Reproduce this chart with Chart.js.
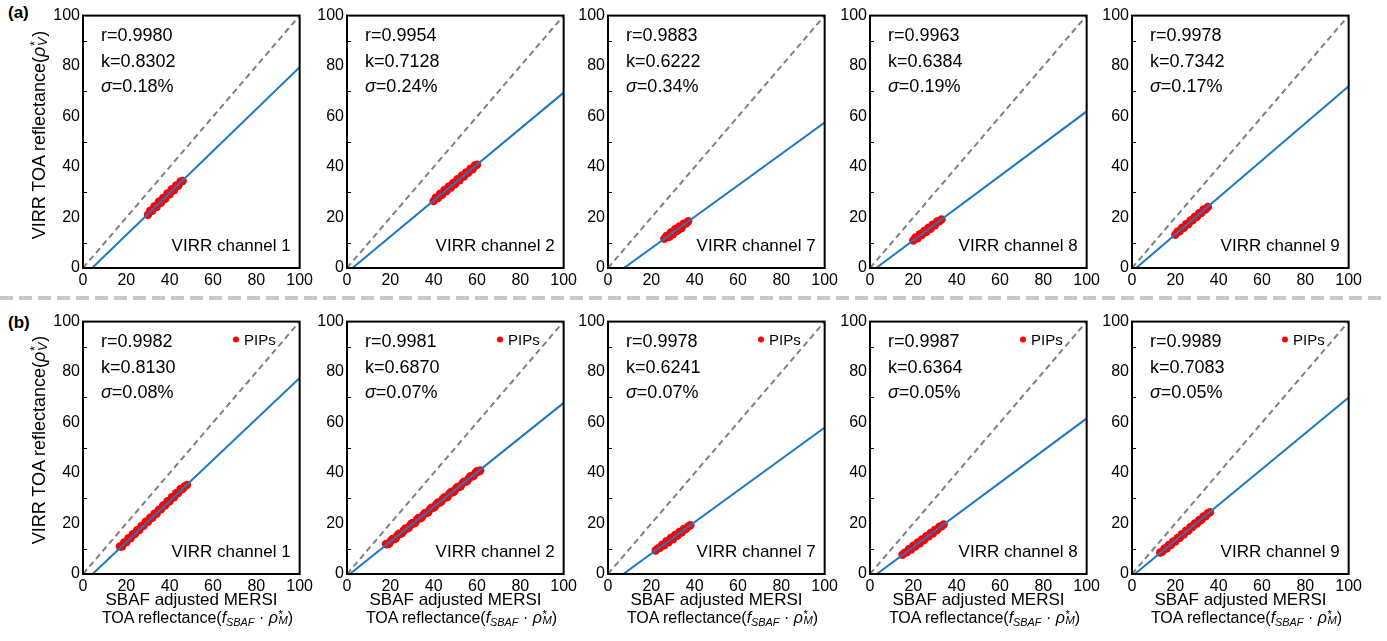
<!DOCTYPE html>
<html>
<head>
<meta charset="utf-8">
<title>VIRR vs SBAF adjusted MERSI</title>
<script src="https://cdn.jsdelivr.net/npm/chart.js@4/dist/chart.umd.min.js"></script>
<style>
    body { margin: 0; background: #fff; }
    #figure {
        position: relative;
        width: 1387px;
        height: 641px;
        overflow: hidden;
        font-family: 'Liberation Sans', Arial, sans-serif;
        color: #000;
    }
    canvas.panel { position: absolute; }
    .txt { position: absolute; white-space: nowrap; line-height: 1; }
    .tag { font-weight: bold; font-size: 17px; }
    .ytitle { font-size: 18px; transform: translate(-50%, -50%) rotate(-90deg); }
    .xtitle { font-size: 17px; transform: translateX(-50%); }
    .xtitle.second { font-size: 16px; }
    .txt sub { font-size: 0.68em; vertical-align: -0.25em; line-height: 0; }
    .stk { display: inline-block; position: relative; height: 0.7em; vertical-align: baseline; }
    .stk span { position: absolute; left: 0.05em; font-size: 0.7em; line-height: 1; }
    .stk .up { top: -0.25em; }
    .stk .dn { top: 0.36em; font-style: italic; }
    #divider {
        position: absolute;
        left: 0; top: 296px;
        width: 1387px; height: 4px;
        background: repeating-linear-gradient(to right, #c8c8c8 0 13px, transparent 13px 19px);
    }
</style>
</head>
<body>
<div id="figure"><div id="divider"></div></div>
<script>

/* ---------------- DATA ---------------- */
const channels = [1, 2, 7, 8, 9]
const axisTicks = [0, 20, 40, 60, 80, 100]
const minorTicks = [10, 30, 50, 70, 90]

// (a) all matched samples
const rValuesA = ['0.9980', '0.9954', '0.9883', '0.9963', '0.9978']
const kValuesA = [0.8302, 0.7128, 0.6222, 0.6384, 0.7342]
const sigmaA = ['0.18', '0.24', '0.34', '0.19', '0.17']
const interceptA = [-3.5, -1.8, -4.6, -1.8, -1.4]

// (b) PIPs only
const rValuesB = ['0.9982', '0.9981', '0.9978', '0.9987', '0.9989']
const kValuesB = [0.8130, 0.6870, 0.6241, 0.6364, 0.7083]
const sigmaB = ['0.08', '0.07', '0.07', '0.05', '0.05']
const interceptB = [-3.6, -0.9, -4.4, -2.0, -0.9]

// sample points, MERSI (x) vs VIRR (y) reflectance in %
const ptsA1X = [30, 31, 32, 33, 34, 35, 36, 37, 38, 39, 40, 41, 42, 43, 44, 45, 46]
const ptsA1Y = [21.1, 22.7, 22.7, 24.5, 24.2, 26.3, 25.8, 27.8, 27.4, 29.5, 29.2, 31.2, 30.8, 32.7, 32.6, 34.3, 34.5]

const ptsA2X = [40, 41, 42, 43, 44, 45, 46, 47, 48, 49, 50, 51, 52, 53, 54, 55, 56, 57, 58, 59, 60]
const ptsA2Y = [26.5, 27.9, 27.7, 29.4, 29.0, 30.9, 30.5, 32.3, 31.9, 33.7, 33.3, 35.2, 34.8, 36.6, 36.2, 37.9, 37.7, 39.3, 39.1, 40.6, 40.9]

const ptsA3X = [26, 27, 28, 29, 30, 31, 32, 33, 34, 35, 36, 37, 28.5, 31.5, 33.5]
const ptsA3Y = [11.6, 12.7, 12.3, 14.1, 13.4, 15.4, 14.7, 16.5, 15.8, 17.6, 17.6, 18.5, 12.6, 15.6, 15.7]

const ptsA4X = [20, 21, 22, 23, 24, 25, 26, 27, 28, 29, 30, 31, 32, 33]
const ptsA4Y = [10.9, 12.1, 11.8, 13.4, 13.1, 14.7, 14.3, 16.0, 15.5, 17.2, 16.9, 18.4, 18.5, 19.2]

const ptsA5X = [20, 21, 22, 23, 24, 25, 26, 27, 28, 29, 30, 31, 32, 33, 34, 35]
const ptsA5Y = [13.2, 14.4, 14.5, 15.9, 15.9, 17.4, 17.3, 18.8, 18.9, 20.3, 20.3, 21.7, 21.8, 23.2, 23.3, 24.2]

const ptsB1X = [17, 18, 19, 20, 21, 22, 23, 24, 25, 26, 27, 28, 29, 30, 31, 32,
    33, 34, 35, 36, 37, 38, 39, 40, 41, 42, 43, 44, 45, 46, 47, 48]
const ptsB1Y = [10.9, 10.9, 12.5, 12.6, 14.2, 14.2, 15.8, 15.8, 17.4, 17.4, 19.0, 19.1, 20.7, 20.7, 22.3, 22.3,
    23.9, 23.9, 25.5, 25.6, 27.2, 27.2, 28.8, 28.8, 30.4, 30.4, 32.0, 32.1, 33.7, 33.7, 34.8, 35.3]

const ptsB2X = [18, 19.5, 21, 22.5, 24, 25.5, 27, 28.5, 30, 31.5, 33, 34.5, 36, 37.5, 39,
    40.5, 42, 43.5, 45, 46.5, 48, 49.5, 51, 52.5, 54, 55.5, 57, 58.5, 60, 61.5,
    18.75, 20.25, 21.75, 23.25, 24.75, 26.25, 27.75, 29.25, 30.75, 32.25, 33.75, 35.25, 36.75, 38.25, 39.75,
    41.25, 42.75, 44.25, 45.75, 47.25, 48.75, 50.25, 51.75, 53.25, 54.75, 56.25, 57.75, 59.25, 60.75]
const ptsB2Y = [11.9, 12.1, 13.9, 14.2, 16.0, 16.2, 18.0, 18.3, 20.1, 20.3, 22.2, 22.4, 24.2, 24.5, 26.3,
    26.5, 28.3, 28.6, 30.4, 30.6, 32.5, 32.7, 34.5, 34.8, 36.6, 36.8, 38.7, 38.9, 40.7, 41.0,
    11.8, 13.2, 13.8, 15.3, 15.9, 17.3, 18.0, 19.4, 20.0, 21.5, 22.1, 23.5, 24.2, 25.6, 26.2,
    27.6, 28.3, 29.7, 30.3, 31.8, 32.4, 33.8, 34.5, 35.9, 36.5, 37.9, 38.6, 40.0, 40.6]

const ptsB3X = [22, 23, 24, 25, 26, 27, 28, 29, 30, 31, 32, 33, 34, 35, 36, 37, 38]
const ptsB3Y = [9.3, 10.1, 10.4, 11.6, 11.4, 13.0, 12.6, 14.3, 13.8, 15.5, 15.1, 16.7, 16.4, 17.8, 17.8, 18.8, 19.3]

const ptsB4X = [15, 16, 17, 18, 19, 20, 21, 22, 23, 24, 25, 26, 27, 28, 29, 30, 31, 32, 33, 34]
const ptsB4Y = [7.6, 8.4, 8.6, 9.9, 9.7, 11.2, 11.0, 12.5, 12.2, 13.7, 13.5, 15.0, 14.8, 16.3, 16.0, 17.5, 17.4, 18.7, 18.9, 19.6]

const ptsB5X = [13, 14, 15, 16, 17, 18, 19, 20, 21, 22, 23, 24, 25, 26, 27, 28, 29, 30, 31, 32, 33, 34, 35, 36]
const ptsB5Y = [8.5, 8.8, 10.1, 10.1, 11.5, 11.5, 12.9, 12.9, 14.3, 14.3, 15.8, 15.7, 17.2, 17.1, 18.6, 18.6,
    20.0, 20.0, 21.4, 21.4, 22.8, 22.9, 24.1, 24.5]


/* ---------------- LAYOUT ---------------- */
const FONT = "'Liberation Sans', Arial, sans-serif"
const colLeft = [83, 347, 608, 870, 1132]
const rowTop = [13, 319]
const plotW = 217
const plotH = 255
const padL = 44, padT = 10, padR = 16, padB = 26

const BLUE = '#1f78c1'
const RED = '#ff0000'
const GREY = '#808080'

const rows = [
    { tag: '(a)', r: rValuesA, k: kValuesA, sigma: sigmaA, b: interceptA, legend: false,
      xs: [ptsA1X, ptsA2X, ptsA3X, ptsA4X, ptsA5X], ys: [ptsA1Y, ptsA2Y, ptsA3Y, ptsA4Y, ptsA5Y] },
    { tag: '(b)', r: rValuesB, k: kValuesB, sigma: sigmaB, b: interceptB, legend: true,
      xs: [ptsB1X, ptsB2X, ptsB3X, ptsB4X, ptsB5X], ys: [ptsB1Y, ptsB2Y, ptsB3Y, ptsB4Y, ptsB5Y] }
]

const figure = document.getElementById('figure')


/* Frame, inner minor ticks, statistics and labels inside each panel */
const panelDecor = {
    id: 'panelDecor',
    afterDatasetsDraw(chart, args, opts) {
        const { ctx, chartArea: a, scales: { y } } = chart
        ctx.save()

        ctx.strokeStyle = '#000'
        ctx.lineWidth = 1
        for (const v of minorTicks) {
            const py = Math.round(y.getPixelForValue(v)) + 0.5
            ctx.beginPath()
            ctx.moveTo(a.left, py)
            ctx.lineTo(a.left + 4, py)
            ctx.stroke()
        }
        ctx.lineWidth = 2
        ctx.strokeRect(a.left, a.top, a.right - a.left, a.bottom - a.top)

        ctx.fillStyle = '#000'
        ctx.textBaseline = 'alphabetic'
        ctx.textAlign = 'left'
        ctx.font = '18px ' + FONT
        const tx = a.left + 18
        ctx.fillText('r=' + opts.r, tx, a.top + 25)
        ctx.fillText('k=' + opts.k, tx, a.top + 51)
        ctx.font = 'italic 18px ' + FONT
        ctx.fillText('σ', tx, a.top + 76)
        const sw = ctx.measureText('σ').width
        ctx.font = '18px ' + FONT
        ctx.fillText('=' + opts.sigma + '%', tx + sw, a.top + 76)

        ctx.font = '17px ' + FONT
        ctx.textAlign = 'right'
        ctx.fillText('VIRR channel ' + opts.channel, a.right - 9, a.bottom - 17)

        if (opts.legend) {
            ctx.fillStyle = RED
            ctx.beginPath()
            ctx.arc(a.left + 153, a.top + 18, 3, 0, Math.PI * 2)
            ctx.fill()
            ctx.fillStyle = '#000'
            ctx.textAlign = 'left'
            ctx.font = '15px ' + FONT
            ctx.fillText('PIPs', a.left + 161, a.top + 23)
        }
        ctx.restore()
    }
}

const axisOptions = (fitSize) => ({
    type: 'linear',
    min: 0,
    max: 100,
    afterBuildTicks: s => { s.ticks = axisTicks.map(v => ({ value: v })) },
    afterFit: fitSize,
    grid: { display: false, drawTicks: false },
    border: { display: false },
    ticks: {
        font: { family: FONT, size: 16 },
        color: '#000',
        padding: 3,
        autoSkip: false,
        maxRotation: 0
    }
})

const makePanel = (row, col) => {
    const cfg = rows[row]
    const k = cfg.k[col]
    const b = cfg.b[col]

    const canvas = document.createElement('canvas')
    canvas.className = 'panel'
    canvas.width = padL + plotW + padR
    canvas.height = padT + plotH + padB
    canvas.style.left = (colLeft[col] - padL) + 'px'
    canvas.style.top = (rowTop[row] - padT) + 'px'
    figure.appendChild(canvas)

    const points = cfg.xs[col].map((x, i) => ({ x: x, y: cfg.ys[col][i] }))

    new Chart(canvas, {
        type: 'scatter',
        data: {
            datasets: [
                {
                    label: 'fit',
                    data: [{ x: -b / k, y: 0 }, { x: 100, y: k * 100 + b }],
                    showLine: true,
                    borderColor: BLUE,
                    borderWidth: 2,
                    pointRadius: 0,
                    order: 0
                },
                {
                    label: 'PIPs',
                    data: points,
                    backgroundColor: RED,
                    borderWidth: 0,
                    pointRadius: 4.2,
                    order: 1
                },
                {
                    label: '1:1',
                    data: [{ x: 0, y: 0 }, { x: 100, y: 100 }],
                    showLine: true,
                    borderColor: GREY,
                    borderWidth: 2,
                    borderDash: [6, 4],
                    pointRadius: 0,
                    order: 2
                }
            ]
        },
        options: {
            responsive: false,
            animation: false,
            events: [],
            layout: { padding: { left: 0, top: padT, right: padR, bottom: 0 } },
            plugins: {
                legend: { display: false },
                tooltip: { enabled: false },
                panelDecor: {
                    r: cfg.r[col],
                    k: k.toFixed(4),
                    sigma: cfg.sigma[col],
                    channel: channels[col],
                    legend: cfg.legend
                }
            },
            scales: {
                x: axisOptions(s => { s.height = padB }),
                y: axisOptions(s => { s.width = padL })
            }
        },
        plugins: [panelDecor]
    })
}

for (let row = 0; row < 2; row++) {
    for (let col = 0; col < 5; col++) {
        makePanel(row, col)
    }
}


/* ---------------- TEXT AROUND THE PANELS ---------------- */
const addText = (cls, html, left, top) => {
    const el = document.createElement('div')
    el.className = 'txt ' + cls
    el.innerHTML = html
    el.style.left = left + 'px'
    el.style.top = top + 'px'
    figure.appendChild(el)
    return el
}

const rhoStar = (sub, w) =>
    '<i>ρ</i><span class="stk" style="width:' + w + 'em"><span class="up">*</span><span class="dn">' + sub + '</span></span>'

const yTitle = 'VIRR TOA reflectance(' + rhoStar('V', 0.55) + ')'
const xTitle1 = 'SBAF adjusted MERSI'
const xTitle2 = 'TOA reflectance(<i>f</i><sub><i>SBAF</i></sub> · ' + rhoStar('M', 0.62) + ')'

// panel tags, baseline ~0.85em below the box top
addText('tag', rows[0].tag, 8, 18 - 14.4)
addText('tag', rows[1].tag, 8, 328 - 14.4)

// y titles, first column only
addText('ytitle', yTitle, 38.5, 135)
addText('ytitle', yTitle, 38.5, 440)

// x titles, bottom row only
for (let col = 0; col < 5; col++) {
    const cx = colLeft[col] + plotW / 2
    addText('xtitle', xTitle1, cx, 605 - 14.4)
    addText('xtitle second', xTitle2, cx + 6, 623 - 13.5)
}
</script>
</body>
</html>
